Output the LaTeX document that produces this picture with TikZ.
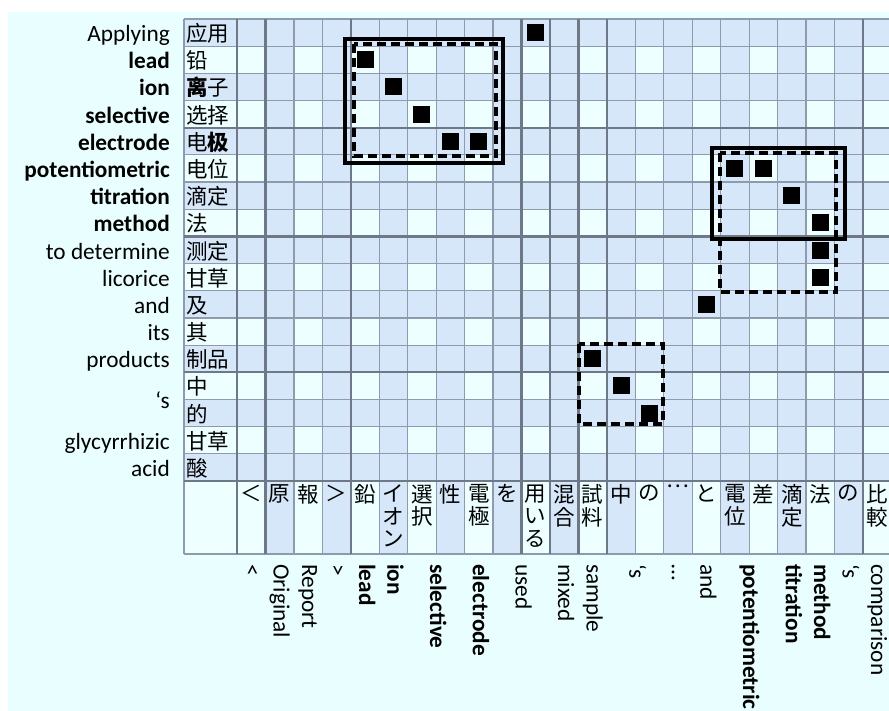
\documentclass[tikz,border=0pt]{standalone}
\usepackage{fontspec}
\setmainfont{Carlito}
\newfontfamily\zhfont{Noto Sans CJK SC}
\newfontfamily\jafont{Noto Sans CJK JP}
\usetikzlibrary{positioning}

\definecolor{bgcyan}{HTML}{E9FEFE}
\definecolor{cellcyan}{HTML}{EDFFFF}
\definecolor{cellblue}{HTML}{D7E7FA}
\definecolor{gridgray}{HTML}{8F9BAD}
\definecolor{griddark}{HTML}{6E7887}

\begin{document}
\begin{tikzpicture}[x=1pt,y=-1pt,
    thinrule/.style={draw=gridgray,line width=1.2pt},
    thickrule/.style={draw=griddark,line width=2.3pt},
    hit/.style={fill=black,inner sep=0pt,minimum size=17pt},
    enword/.style={font=\fontsize{23.3}{26}\selectfont,inner sep=0pt},
    zhword/.style={font=\zhfont\fontsize{21.5}{24}\selectfont,inner sep=0pt},
    jaword/.style={font=\jafont\fontsize{21.5}{22.5}\selectfont,inner sep=0pt,align=center},
    solidbox/.style={draw=black,line width=3.3pt},
    dashbox/.style={draw=black,line width=3.3pt,dash pattern=on 9pt off 5pt}]
  \def\cw{28.45}
  \def\rh{27.18}
  \path[use as bounding box,clip] (0,0) rectangle (889,711);
  \fill[bgcyan] (8,12) rectangle (900,720);

  % cells
  \fill[cellcyan] (184,19) rectangle ({237+23*\cw},554);
  \foreach \r in {1,3,...,17}
    \fill[cellblue] (184,{19+(\r-1)*\rh}) rectangle ({237+23*\cw},{19+\r*\rh});
  \foreach \c in {2,4,...,22}
    \fill[cellblue] ({237+(\c-1)*\cw},19) rectangle ({237+\c*\cw},554);

  % rules
  \foreach \i in {0,...,17}
    \draw[thinrule] (184,{19+\i*\rh}) -- ({237+23*\cw},{19+\i*\rh});
  \draw[thinrule] (184,554) -- ({237+23*\cw},554);
  \draw[thinrule] (184,19) -- (184,554);
  \foreach \j in {0,...,23}
    \draw[thinrule] ({237+\j*\cw},19) -- ({237+\j*\cw},554);
  \foreach \i in {4,8,13,17}
    \draw[thickrule] (184,{19+\i*\rh}) -- ({237+23*\cw},{19+\i*\rh});
  \foreach \j in {0,1,4,10,11,12,13,22}
    \draw[thickrule] ({237+\j*\cw},19) -- ({237+\j*\cw},554);

  % english rows
  \foreach \i/\w in {1/Applying,2/\textbf{lead},3/\textbf{ion},4/\textbf{selective},
      5/\textbf{electrode},6/\textbf{potentiometric},7/\textbf{titration},8/\textbf{method},
      9/to determine,10/licorice,11/and,12/its,13/products,16/glycyrrhizic,17/acid}
    \node[enword,anchor=base east] (en\i) at (170,{19+(\i-0.5)*\rh+9}) {\w};
  \node[enword,anchor=base east] (en14) at (170,{19+14*\rh+9}) {`s};

  % chinese rows
  \foreach \i/\w in {1/应用,2/铅,3/{\bfseries 离}子,4/选择,5/电{\bfseries 极},6/电位,
      7/滴定,8/法,9/测定,10/甘草,11/及,12/其,13/制品,14/中,15/的,16/甘草,17/酸}
    \node[zhword,anchor=base west] (zh\i) at (186,{19+(\i-0.5)*\rh+9}) {\w};

  % japanese columns
  \foreach \c/\w in {1/＜,2/原,3/報,4/＞,5/鉛,6/イ\\オ\\ン,7/選\\択,8/性,9/電\\極,
      10/を,11/用\\い\\る,12/混\\合,13/試\\料,14/中,15/の,16/…,17/と,18/電\\位,
      19/差,20/滴\\定,21/法,22/の,23/比\\較}
    \node[jaword,anchor=north] (ja\c) at ({237+(\c-0.5)*\cw},484.5) {\w};

  % english columns
  \foreach \c/\w [count=\k] in {1/<,2/Original,3/Report,4/>,5/\textbf{lead},6/\textbf{ion},
      7.5/\textbf{selective},9/\textbf{electrode},10.5/used,12/mixed,13/sample,14.5/`s,
      16/…,17/and,18.5/\textbf{potentiometric},20/\textbf{titration},21/\textbf{method},
      22/`s,23/comparison}
    \node[enword,rotate=-90,anchor=base west] (ew\k) at ({237+(\c-0.5)*\cw-6},564) {\w};

  % alignment points
  \foreach \r/\c in {1/11,2/5,3/6,4/7,5/8,5/9,6/18,6/19,7/20,8/21,9/21,10/21,11/17,
      13/13,14/14,15/15}
    \node[hit] (hit-\r-\c) at ({237+(\c-0.5)*\cw},{19+(\r-0.5)*\rh}) {};

  % phrase boxes
  \draw[solidbox] (345,39) rectangle (503,163);
  \draw[dashbox] (354,44) rectangle (496,156);
  \draw[solidbox] (712,148) rectangle (845,239);
  \draw[dashbox] (720,153) rectangle (836,292);
  \draw[dashbox] (579,344) rectangle (663,424);
\end{tikzpicture}
\end{document}
